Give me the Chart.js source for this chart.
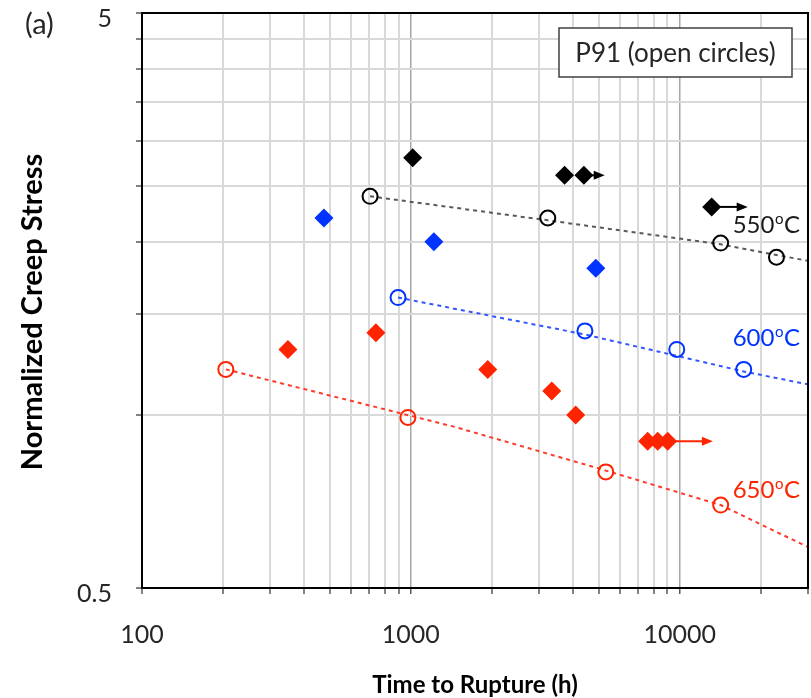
<!DOCTYPE html>
<html>
<head>
<meta charset="utf-8">
<script src="https://cdn.jsdelivr.net/npm/chart.js@4/dist/chart.umd.min.js"></script>
<style>
  html, body { margin: 0; padding: 0; background: #ffffff; }
  #wrap { width: 811px; height: 698px; position: relative; }
</style>
</head>
<body>
<div id="wrap"><canvas id="c" width="811" height="698"></canvas></div>
<script>
// P91 reference steel (open circles): time to rupture (h) and normalized stress
const p91_550_time   = [705, 3230, 14200, 22900];
const p91_550_stress = [2.40, 2.20, 1.99, 1.88];
const p91_600_time   = [896, 4440, 9750, 17300];
const p91_600_stress = [1.60, 1.40, 1.30, 1.20];
const p91_650_time   = [205, 975, 5310, 14200];
const p91_650_stress = [1.20, 0.99, 0.796, 0.697];

// Tested alloy (filled diamonds)
const alloy_550_time   = [1016, 3730, 4400, 13150];
const alloy_550_stress = [2.80, 2.61, 2.61, 2.30];
const alloy_600_time   = [475, 1218, 4875];
const alloy_600_stress = [2.20, 2.00, 1.80];
const alloy_650_time   = [349, 741, 1932, 3342, 4103, 7600, 8280, 9020];
const alloy_650_stress = [1.30, 1.39, 1.20, 1.10, 1.00, 0.90, 0.90, 0.90];

// Run-out tests (still running): arrow from start time to end time
const runout_550_from   = [4400, 13150];
const runout_550_to     = [5260, 17900];
const runout_550_stress = [2.61, 2.30];
const runout_650_from   = [9020];
const runout_650_to     = [13280];
const runout_650_stress = [0.90];

// P91 trend lines
const trend_550_time   = [705, 3230, 14200, 30000];
const trend_550_stress = [2.40, 2.18, 1.98, 1.853];
const trend_600_time   = [896, 4440, 17300, 30000];
const trend_600_stress = [1.60, 1.38, 1.19, 1.13];
const trend_650_time   = [205, 1459, 4911, 14200, 30000];
const trend_650_stress = [1.20, 0.953, 0.809, 0.697, 0.589];

// Temperature labels: text, anchor time (right edge), stress
const tempLabels    = ['550', '600', '650'];
const tempLabelTime = [28000, 28000, 28000];
const tempLabelY    = [2.14, 1.36, 0.74];

// Axis ticks
const xGridValues  = [100, 200, 300, 400, 500, 600, 700, 800, 900,
                      1000, 2000, 3000, 4000, 5000, 6000, 7000, 8000, 9000,
                      10000, 20000, 30000];
const xLabelValues = [100, 1000, 10000];
const yGridValues  = [0.5, 1, 1.5, 2, 2.5, 3, 3.5, 4, 4.5, 5];
const yLabelValues = [0.5, 5];

const BLACK = '#000000';
const BLUE  = '#0033ff';
const RED   = '#ff2400';
const FONT  = 'Lato, "Open Sans", sans-serif';

const pts = (xs, ys) => xs.map((x, i) => ({ x: x, y: ys[i] }));

function circles(xs, ys, color) {
  return { type: 'scatter', data: pts(xs, ys), order: 2,
    pointStyle: 'circle', pointRadius: 7.5, pointBorderWidth: 2,
    borderColor: color, backgroundColor: 'rgba(255,255,255,0)', showLine: false };
}
function diamonds(xs, ys, color) {
  return { type: 'scatter', data: pts(xs, ys), order: 1,
    pointStyle: 'rectRot', pointRadius: 9.5, pointBorderWidth: 0,
    borderColor: color, backgroundColor: color, showLine: false };
}
function trend(xs, ys, color) {
  return { type: 'scatter', data: pts(xs, ys), order: 3, showLine: true,
    borderColor: color, borderWidth: 2, borderDash: [4, 4],
    pointRadius: 0, backgroundColor: color };
}

const overlay = {
  id: 'overlay',
  afterDatasetsDraw(chart) {
    const { ctx, scales: { x, y } } = chart;
    ctx.save();
    // run-out arrows
    const arrow = (x0, x1, v, color) => {
      const px0 = x.getPixelForValue(x0), px1 = x.getPixelForValue(x1), py = y.getPixelForValue(v);
      ctx.strokeStyle = color; ctx.fillStyle = color; ctx.lineWidth = 2;
      ctx.beginPath(); ctx.moveTo(px0, py); ctx.lineTo(px1 - 8, py); ctx.stroke();
      ctx.beginPath(); ctx.moveTo(px1, py); ctx.lineTo(px1 - 11, py - 4.5); ctx.lineTo(px1 - 11, py + 4.5); ctx.closePath(); ctx.fill();
    };
    runout_550_from.forEach((t, i) => arrow(t, runout_550_to[i], runout_550_stress[i], BLACK));
    runout_650_from.forEach((t, i) => arrow(t, runout_650_to[i], runout_650_stress[i], RED));

    // temperature labels with degree sign as raised small "o"
    const colors = ['#1a1a1a', BLUE, RED];
    ctx.textBaseline = 'middle';
    tempLabels.forEach((t, i) => {
      const right = x.getPixelForValue(tempLabelTime[i]);
      const py = y.getPixelForValue(tempLabelY[i]);
      const big = '24px ' + FONT, small = '15px ' + FONT;
      ctx.font = big; const wNum = ctx.measureText(t).width; const wC = ctx.measureText('C').width;
      ctx.font = small; const wO = ctx.measureText('o').width;
      const left = right - (wNum + wO + wC + 1);
      ctx.fillStyle = colors[i]; ctx.textAlign = 'left';
      ctx.font = big; ctx.fillText(t, left, py);
      ctx.font = small; ctx.fillText('o', left + wNum + 0.5, py - 6);
      ctx.font = big; ctx.fillText('C', left + wNum + wO + 1, py);
    });

    // material box
    const bx = 559, by = 28, bw = 233, bh = 49;
    ctx.fillStyle = '#ffffff'; ctx.fillRect(bx, by, bw, bh);
    ctx.strokeStyle = '#404040'; ctx.lineWidth = 1.5; ctx.strokeRect(bx, by, bw, bh);
    ctx.fillStyle = '#262626'; ctx.font = '26px ' + FONT; ctx.textAlign = 'center';
    ctx.fillText('P91 (open circles)', bx + bw / 2, by + bh / 2 + 1);
    ctx.restore();
  },
  afterDraw(chart) {
    const { ctx, chartArea: a } = chart;
    ctx.save();
    // frame round the plot area
    ctx.strokeStyle = '#000000'; ctx.lineWidth = 2;
    ctx.strokeRect(a.left, a.top, a.right - a.left, a.bottom - a.top);
    // panel letter
    ctx.fillStyle = '#262626'; ctx.font = '29px ' + FONT;
    ctx.textAlign = 'left'; ctx.textBaseline = 'middle';
    ctx.fillText('(a)', 25, 25);
    // vertical axis title
    ctx.translate(33, 312); ctx.rotate(-Math.PI / 2);
    ctx.fillStyle = '#000000'; ctx.font = 'bold 29px ' + FONT;
    ctx.textAlign = 'center'; ctx.textBaseline = 'middle';
    ctx.fillText('Normalized Creep Stress', 0, 0);
    ctx.restore();
  }
};

new Chart(document.getElementById('c'), {
  type: 'scatter',
  data: {
    datasets: [
      trend(trend_550_time, trend_550_stress, '#595959'),
      trend(trend_600_time, trend_600_stress, '#3355ff'),
      trend(trend_650_time, trend_650_stress, '#ff3a2a'),
      circles(p91_550_time, p91_550_stress, BLACK),
      circles(p91_600_time, p91_600_stress, BLUE),
      circles(p91_650_time, p91_650_stress, RED),
      diamonds(alloy_550_time, alloy_550_stress, BLACK),
      diamonds(alloy_600_time, alloy_600_stress, BLUE),
      diamonds(alloy_650_time, alloy_650_stress, RED)
    ]
  },
  options: {
    responsive: false,
    animation: false,
    events: [],
    layout: { autoPadding: false, padding: { left: 0, right: 3, top: 13, bottom: 0 } },
    plugins: { legend: { display: false }, tooltip: { enabled: false } },
    scales: {
      x: {
        type: 'logarithmic', min: 100, max: 30000, position: 'bottom',
        afterBuildTicks: s => { s.ticks = xGridValues.map(v => ({ value: v })); },
        afterFit: s => { s.height = 110; s.paddingLeft = 0; s.paddingRight = 0; s.paddingTop = 0; s.paddingBottom = 0; },
        ticks: {
          autoSkip: false, maxRotation: 0, padding: 26,
          color: '#262626', font: { family: FONT, size: 25 },
          callback: v => xLabelValues.includes(v) ? String(v) : ''
        },
        grid: {
          drawTicks: true, tickLength: 6, tickWidth: 1.5, tickColor: '#595959',
          color: c => (c.tick && (c.tick.value === 1000 || c.tick.value === 10000)) ? '#a6a6a6' : '#d9d9d9',
          lineWidth: c => (c.tick && (c.tick.value === 1000 || c.tick.value === 10000)) ? 1.5 : 2
        },
        border: { display: true, color: '#000000', width: 2 },
        title: {
          display: true, text: 'Time to Rupture (h)', color: '#000000',
          font: { family: FONT, size: 24, weight: 'bold' }, padding: { top: 0, bottom: -2 }
        }
      },
      y: {
        type: 'logarithmic', min: 0.5, max: 5,
        afterBuildTicks: s => { s.ticks = yGridValues.map(v => ({ value: v })); },
        afterFit: s => { s.width = 142; s.paddingLeft = 0; s.paddingRight = 0; s.paddingTop = 0; s.paddingBottom = 0; },
        ticks: {
          autoSkip: false, padding: 24, labelOffset: 6,
          color: '#262626', font: { family: FONT, size: 25 },
          callback: v => yLabelValues.includes(v) ? String(v) : ''
        },
        grid: {
          drawTicks: true, tickLength: 6, tickWidth: 1.5, tickColor: '#595959',
          color: '#d9d9d9', lineWidth: 2
        },
        border: { display: true, color: '#000000', width: 2 },
        title: { display: false }
      }
    }
  },
  plugins: [overlay]
});
</script>
</body>
</html>
